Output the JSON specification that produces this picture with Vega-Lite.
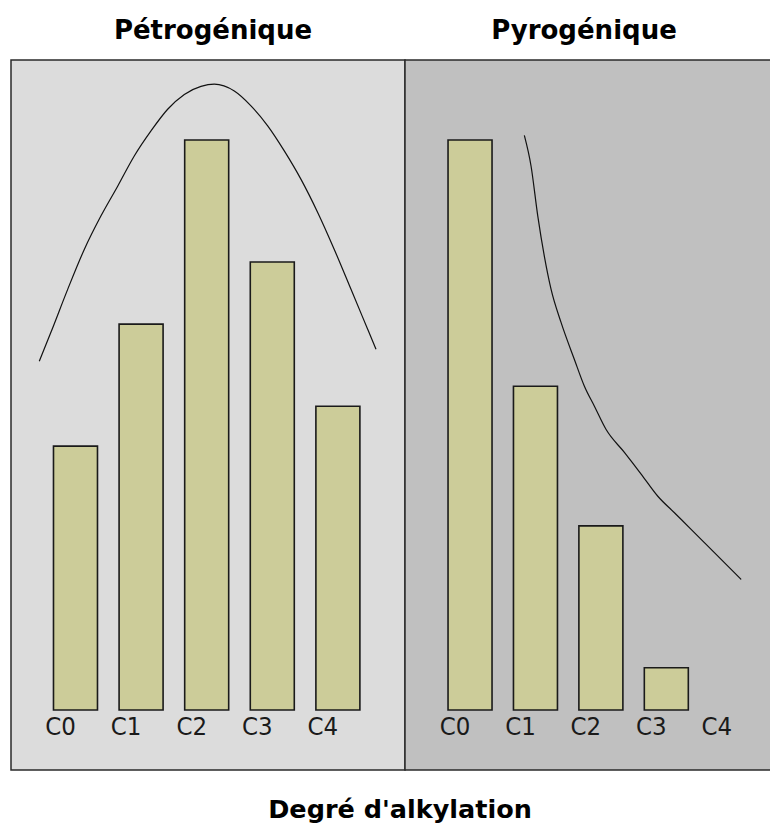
{
  "$schema": "https://vega.github.io/schema/vega-lite/v6.json",
  "background": "white",
  "padding": {"left": 10, "top": 17, "right": 0, "bottom": 0},
  "autosize": {"type": "pad"},
  "bounds": "flush",
  "spacing": 0,
  "title": {"text": "Degré d'alkylation", "orient": "bottom", "anchor": "middle", "font": "DejaVu Sans", "fontSize": 25.5, "fontWeight": "bold", "color": "black", "baseline": "alphabetic", "offset": 47, "dx": 9},
  "config": {"concat": {"spacing": 0}, "view": {"strokeWidth": 1.5}},
  "datasets": {
    "bars": [
      {"panel": "P", "cat": "C0", "idx": 0, "value": 46.3},
      {"panel": "P", "cat": "C1", "idx": 1, "value": 67.7},
      {"panel": "P", "cat": "C2", "idx": 2, "value": 100},
      {"panel": "P", "cat": "C3", "idx": 3, "value": 78.6},
      {"panel": "P", "cat": "C4", "idx": 4, "value": 53.3},
      {"panel": "Y", "cat": "C0", "idx": 0, "value": 100},
      {"panel": "Y", "cat": "C1", "idx": 1, "value": 56.8},
      {"panel": "Y", "cat": "C2", "idx": 2, "value": 32.3},
      {"panel": "Y", "cat": "C3", "idx": 3, "value": 7.4},
      {"panel": "Y", "cat": "C4", "idx": 4, "value": 0}
    ],
    "curve": [
      {"panel": "P", "t": -0.552, "v": 61.2},
      {"panel": "P", "t": -0.373, "v": 66.3},
      {"panel": "P", "t": -0.119, "v": 73.8},
      {"panel": "P", "t": 0.134, "v": 80.8},
      {"panel": "P", "t": 0.389, "v": 86.7},
      {"panel": "P", "t": 0.643, "v": 91.9},
      {"panel": "P", "t": 0.896, "v": 97.2},
      {"panel": "P", "t": 1.151, "v": 101.6},
      {"panel": "P", "t": 1.405, "v": 105.4},
      {"panel": "P", "t": 1.659, "v": 108.0},
      {"panel": "P", "t": 1.913, "v": 109.4},
      {"panel": "P", "t": 2.116, "v": 109.8},
      {"panel": "P", "t": 2.421, "v": 108.6},
      {"panel": "P", "t": 2.675, "v": 106.0},
      {"panel": "P", "t": 2.930, "v": 102.5},
      {"panel": "P", "t": 3.183, "v": 98.1},
      {"panel": "P", "t": 3.438, "v": 93.1},
      {"panel": "P", "t": 3.692, "v": 87.3},
      {"panel": "P", "t": 3.945, "v": 80.8},
      {"panel": "P", "t": 4.200, "v": 73.8},
      {"panel": "P", "t": 4.454, "v": 66.8},
      {"panel": "P", "t": 4.581, "v": 63.3},
      {"panel": "Y", "t": 0.830, "v": 100.8},
      {"panel": "Y", "t": 0.933, "v": 95.4},
      {"panel": "Y", "t": 1.035, "v": 86.7},
      {"panel": "Y", "t": 1.136, "v": 79.6},
      {"panel": "Y", "t": 1.239, "v": 73.8},
      {"panel": "Y", "t": 1.391, "v": 68.0},
      {"panel": "Y", "t": 1.595, "v": 61.5},
      {"panel": "Y", "t": 1.748, "v": 56.8},
      {"panel": "Y", "t": 1.901, "v": 53.3},
      {"panel": "Y", "t": 2.080, "v": 49.2},
      {"panel": "Y", "t": 2.359, "v": 45.2},
      {"panel": "Y", "t": 2.615, "v": 41.4},
      {"panel": "Y", "t": 2.870, "v": 37.5},
      {"panel": "Y", "t": 3.124, "v": 34.6},
      {"panel": "Y", "t": 3.379, "v": 31.7},
      {"panel": "Y", "t": 3.735, "v": 27.6},
      {"panel": "Y", "t": 4.144, "v": 22.9}
    ]
  },
  "hconcat": [
    {
      "width": 394,
      "height": 710,
      "title": {"text": "Pétrogénique", "font": "DejaVu Sans", "fontSize": 26, "fontWeight": "bold", "color": "black", "anchor": "middle", "dx": 5, "baseline": "alphabetic", "offset": -5},
      "view": {"fill": "#dcdcdc", "stroke": "#2a2a2a"},
      "layer": [
        {
          "data": {"name": "bars"},
          "transform": [{"filter": "datum.panel === 'P' && datum.value > 0"}],
          "mark": {"type": "bar", "size": 44, "fill": "#cccc99", "stroke": "#1a1a1a", "strokeWidth": 1.6},
          "encoding": {
            "x": {"field": "idx", "type": "quantitative", "scale": {"domain": [-0.983, 5.023], "nice": false, "zero": false, "padding": 0}, "axis": null},
            "y": {"field": "value", "type": "quantitative", "scale": {"domain": [-10.53, 114.04], "nice": false, "zero": false, "padding": 0}, "axis": null}
          }
        },
        {
          "data": {"name": "bars"},
          "transform": [{"filter": "datum.panel === 'P'"}],
          "mark": {"type": "text", "font": "DejaVu Sans Condensed, DejaVu Sans, sans-serif", "fontSize": 25.5, "color": "#1a1a1a", "align": "center", "baseline": "alphabetic", "dx": -15, "dy": 25},
          "encoding": {
            "x": {"field": "idx", "type": "quantitative"},
            "y": {"datum": 0, "type": "quantitative"},
            "text": {"field": "cat"}
          }
        },
        {
          "data": {"name": "curve"},
          "transform": [{"filter": "datum.panel === 'P'"}],
          "mark": {"type": "line", "color": "#111111", "strokeWidth": 1.2, "interpolate": "monotone"},
          "encoding": {
            "x": {"field": "t", "type": "quantitative"},
            "y": {"field": "v", "type": "quantitative"}
          }
        }
      ]
    },
    {
      "width": 366,
      "height": 710,
      "title": {"text": "Pyrogénique", "font": "DejaVu Sans", "fontSize": 26, "fontWeight": "bold", "color": "black", "anchor": "middle", "dx": -4, "baseline": "alphabetic", "offset": -5},
      "view": {"fill": "#c0c0c0", "stroke": "#2a2a2a"},
      "layer": [
        {
          "data": {"name": "bars"},
          "transform": [{"filter": "datum.panel === 'Y' && datum.value > 0"}],
          "mark": {"type": "bar", "size": 44, "fill": "#cccc99", "stroke": "#1a1a1a", "strokeWidth": 1.6},
          "encoding": {
            "x": {"field": "idx", "type": "quantitative", "scale": {"domain": [-0.994, 4.6], "nice": false, "zero": false, "padding": 0}, "axis": null},
            "y": {"field": "value", "type": "quantitative", "scale": {"domain": [-10.53, 114.04], "nice": false, "zero": false, "padding": 0}, "axis": null}
          }
        },
        {
          "data": {"name": "bars"},
          "transform": [{"filter": "datum.panel === 'Y'"}],
          "mark": {"type": "text", "font": "DejaVu Sans Condensed, DejaVu Sans, sans-serif", "fontSize": 25.5, "color": "#1a1a1a", "align": "center", "baseline": "alphabetic", "dx": -15, "dy": 25},
          "encoding": {
            "x": {"field": "idx", "type": "quantitative"},
            "y": {"datum": 0, "type": "quantitative"},
            "text": {"field": "cat"}
          }
        },
        {
          "data": {"name": "curve"},
          "transform": [{"filter": "datum.panel === 'Y'"}],
          "mark": {"type": "line", "color": "#111111", "strokeWidth": 1.2, "interpolate": "monotone"},
          "encoding": {
            "x": {"field": "t", "type": "quantitative"},
            "y": {"field": "v", "type": "quantitative"}
          }
        }
      ]
    }
  ]
}
